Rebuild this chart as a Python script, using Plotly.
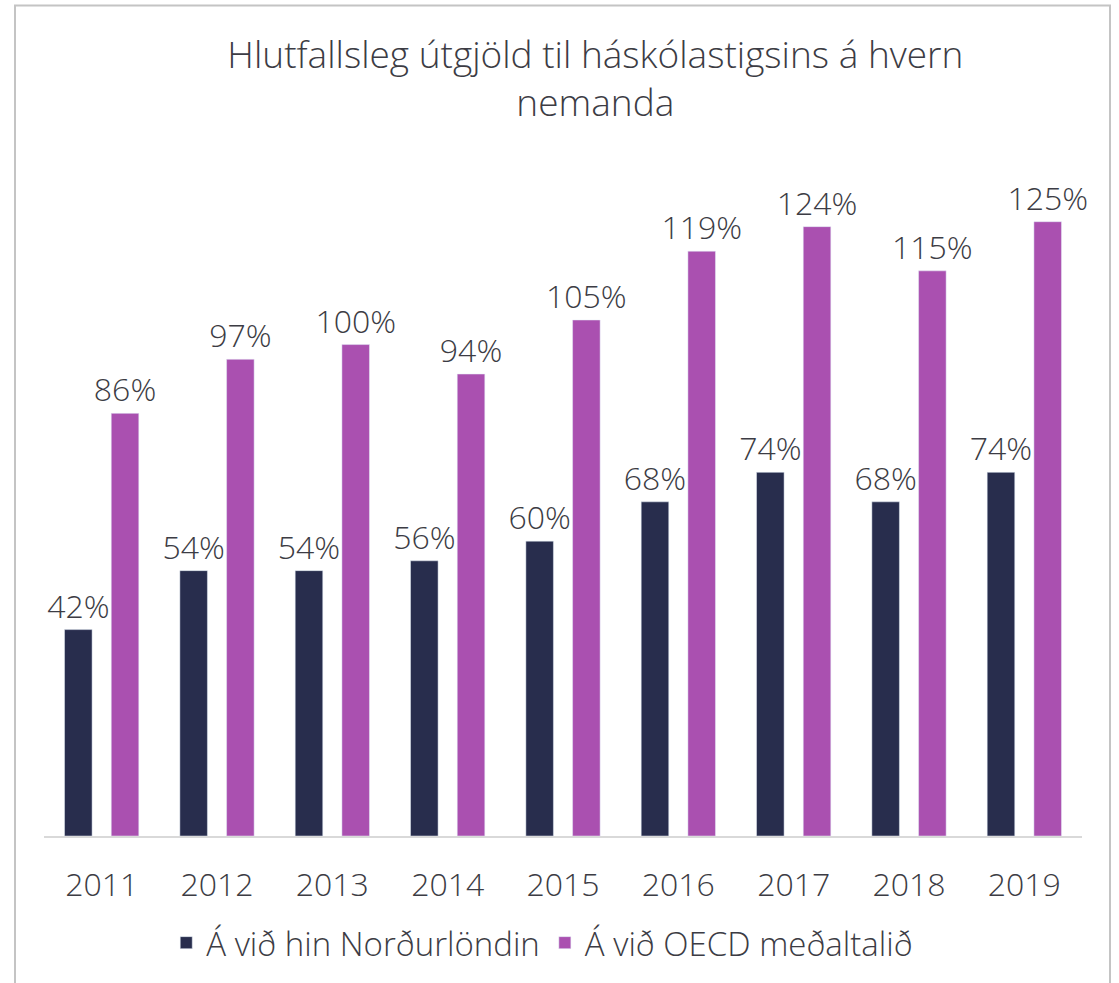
import plotly.graph_objects as go

years = ["2011", "2012", "2013", "2014", "2015", "2016", "2017", "2018", "2019"]
nordic = [42, 54, 54, 56, 60, 68, 74, 68, 74]
oecd = [86, 97, 100, 94, 105, 119, 124, 115, 125]
series_names = ["Á við hin Norðurlöndin", "Á við OECD meðaltalið"]
title_text = "Hlutfallsleg útgjöld til háskólastigsins á hvern<br>nemanda"

dark = "#282d4d"
pink = "#aa50b0"
txt = "#3c3c44"
font_family = "'Open Sans', 'Noto Sans', sans-serif"

fig = go.Figure()
for name, vals, col in [(series_names[0], nordic, dark), (series_names[1], oecd, pink)]:
    fig.add_trace(go.Bar(x=years, y=vals, name=name, marker_color=col,
                         text=[f"{v}%" for v in vals], textposition="outside",
                         constraintext="none",
                         textfont=dict(size=32, color=txt, family=font_family, weight=300),
                         cliponaxis=False))

W, H = 1119, 983
ml, mr, mt, mb = 44, 37, 148, 145
pw, ph = W - ml - mr, H - mt - mb

def px_to_paper_x(px):
    return (px - ml) / pw

def px_to_paper_y(py):
    return (H - mb - py) / ph

fig.add_shape(type="rect", xref="paper", yref="paper",
              x0=px_to_paper_x(15), x1=px_to_paper_x(1110),
              y0=px_to_paper_y(995), y1=px_to_paper_y(5),
              line=dict(color="#c4c4c4", width=2), fillcolor="rgba(0,0,0,0)", layer="below")

fig.update_layout(
    width=W, height=H,
    margin=dict(l=ml, r=mr, t=mt, b=mb),
    paper_bgcolor="white", plot_bgcolor="white",
    barmode="group", bargap=0.19, bargroupgap=0.41,
    title=dict(text=title_text, x=0.532, xanchor="center", y=1 - 68 / H, yanchor="top",
               font=dict(size=37, color=txt, family=font_family, weight=300)),
    font=dict(family=font_family, color=txt),
    showlegend=True,
    legend=dict(orientation="h", x=0.48, xanchor="center", y=px_to_paper_y(945), yanchor="middle",
                font=dict(size=33, color=txt, family=font_family, weight=300), itemwidth=30,
                traceorder="normal"),
    xaxis=dict(showline=True, linecolor="#d9d9d9", linewidth=2, ticks="outside", ticklen=20,
               tickcolor="rgba(0,0,0,0)",
               tickfont=dict(size=32, color=txt, family=font_family, weight=300),
               showgrid=False),
    yaxis=dict(range=[0, 140], visible=False, showgrid=False),
)

fig.write_html("out.html", config={"displayModeBar": False},
               post_script="document.body.style.margin='0';document.body.style.overflow='hidden';")
